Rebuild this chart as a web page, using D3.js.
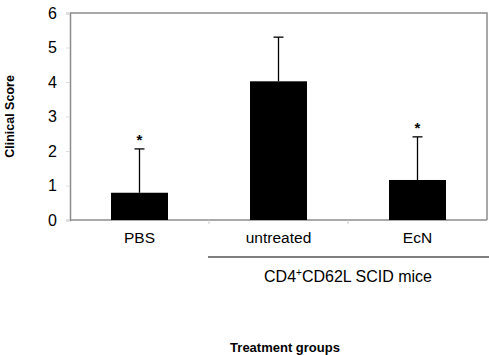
<!DOCTYPE html>
<html>
<head>
<meta charset="utf-8">
<script src="https://cdn.jsdelivr.net/npm/d3@7"></script>
<style>
  body { margin: 0; background: #fff; }
  svg { display: block; font-family: Arial, "Liberation Sans", sans-serif; }
</style>
</head>
<body>
<svg id="chart"></svg>
<script>
// данные
let groups = ["PBS", "untreated", "EcN"];
let scores = [0.79, 4.02, 1.16];
let errors = [1.27, 1.28, 1.25];
let signif = [true, false, true];
let yTicks = [0, 1, 2, 3, 4, 5, 6];

let width = 489;
let height = 355;
let margin = { top: 13, right: 2, bottom: 135, left: 70 };

let svg = d3.select("#chart")
  .attr("width", width)
  .attr("height", height);

let x = d3.scaleBand()
  .domain(groups)
  .range([margin.left, width - margin.right])
  .paddingInner(0.59)
  .paddingOuter(0.295);

let band = d3.scaleBand()
  .domain(groups)
  .range([margin.left, width - margin.right]);

let y = d3.scaleLinear()
  .domain([0, 6])
  .range([height - margin.bottom, margin.top]);

let gray = "#8c8c8c";

// рамка
svg.append("path")
  .attr("d", `M${margin.left},${y(6)} H${width - margin.right} V${y(0)}`)
  .attr("fill", "none")
  .attr("stroke", gray)
  .attr("stroke-width", 1.5);

// ось Y
let yAxis = svg.append("g")
  .attr("transform", `translate(${margin.left},0)`)
  .call(d3.axisLeft(y).tickValues(yTicks).tickSize(4).tickPadding(9).tickFormat(d3.format("d")));
yAxis.select(".domain").attr("stroke", gray).attr("stroke-width", 1.5);
yAxis.selectAll(".tick line").attr("stroke", "#ddd");
yAxis.selectAll("text")
  .attr("font-size", 16)
  .attr("fill", "#000")
  .style("font-family", "Arial, 'Liberation Sans', sans-serif");

// ось X
svg.append("line")
  .attr("x1", margin.left).attr("x2", width - margin.right)
  .attr("y1", y(0)).attr("y2", y(0))
  .attr("stroke", gray).attr("stroke-width", 1.5);

// деления между группами
svg.selectAll(".sep")
  .data(groups.slice(1))
  .enter().append("line")
  .attr("x1", d => band(d)).attr("x2", d => band(d))
  .attr("y1", y(0)).attr("y2", y(0) + 4)
  .attr("stroke", "#ccc");

// столбцы
svg.selectAll(".bar")
  .data(groups)
  .enter().append("rect")
  .attr("x", d => x(d))
  .attr("width", x.bandwidth())
  .attr("y", (d, i) => y(scores[i]))
  .attr("height", (d, i) => y(0) - y(scores[i]))
  .attr("fill", "#000");

// планки погрешностей
let err = svg.selectAll(".err")
  .data(groups)
  .enter().append("g")
  .attr("stroke", "#000")
  .attr("stroke-width", 1.3);
err.append("line")
  .attr("x1", d => x(d) + x.bandwidth() / 2)
  .attr("x2", d => x(d) + x.bandwidth() / 2)
  .attr("y1", (d, i) => y(scores[i]))
  .attr("y2", (d, i) => y(scores[i] + errors[i]));
err.append("line")
  .attr("x1", d => x(d) + x.bandwidth() / 2 - 5)
  .attr("x2", d => x(d) + x.bandwidth() / 2 + 5)
  .attr("y1", (d, i) => y(scores[i] + errors[i]))
  .attr("y2", (d, i) => y(scores[i] + errors[i]));

// звездочки
svg.selectAll(".star")
  .data(groups.filter((d, i) => signif[i]))
  .enter().append("text")
  .attr("x", d => x(d) + x.bandwidth() / 2)
  .attr("y", d => { let i = groups.indexOf(d); return y(scores[i] + errors[i]) - 4; })
  .attr("text-anchor", "middle")
  .attr("font-size", 15)
  .attr("font-weight", "bold")
  .text("*");

// подписи групп
svg.selectAll(".cat")
  .data(groups)
  .enter().append("text")
  .attr("x", d => band(d) + band.bandwidth() / 2)
  .attr("y", 243)
  .attr("text-anchor", "middle")
  .attr("font-size", 15.5)
  .text(d => d);

// линия под группой мышей
svg.append("line")
  .attr("x1", band("untreated") - 1).attr("x2", width)
  .attr("y1", 257).attr("y2", 257)
  .attr("stroke", "#000").attr("stroke-width", 1.2);

let sub = svg.append("text")
  .attr("x", band("EcN"))
  .attr("y", 282)
  .attr("text-anchor", "middle")
  .attr("font-size", 16);
sub.append("tspan").text("CD4");
sub.append("tspan").attr("font-size", 10).attr("dy", -6).text("+");
sub.append("tspan").attr("dy", 6).text("CD62L SCID mice");

// заголовки осей
svg.append("text")
  .attr("x", 285)
  .attr("y", 352)
  .attr("text-anchor", "middle")
  .attr("font-size", 13)
  .attr("font-weight", "bold")
  .text("Treatment groups");

svg.append("text")
  .attr("transform", `translate(14,${(y(0) + y(6)) / 2}) rotate(-90)`)
  .attr("text-anchor", "middle")
  .attr("font-size", 12.5)
  .attr("font-weight", "bold")
  .text("Clinical Score");
</script>
</body>
</html>
